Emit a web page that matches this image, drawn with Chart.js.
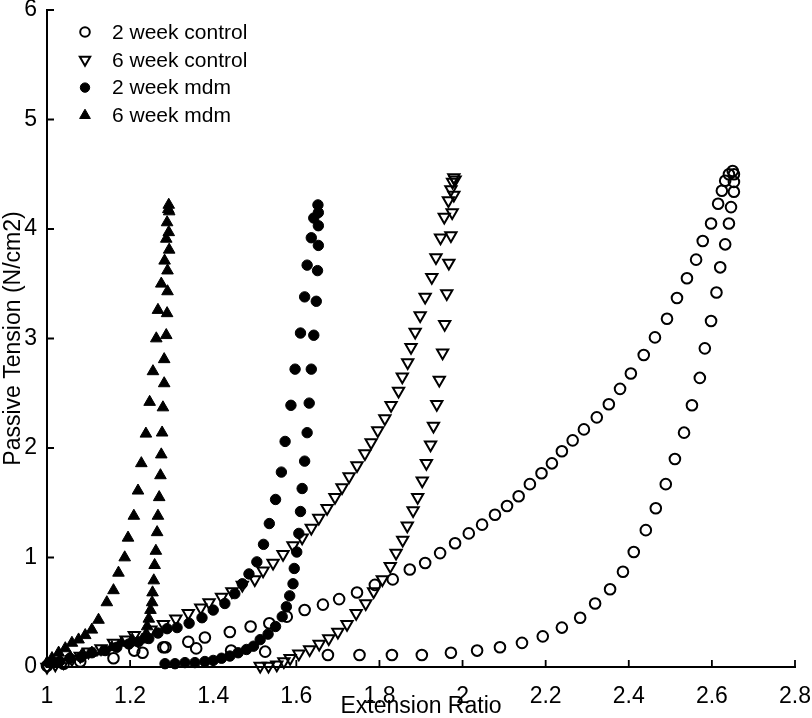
<!DOCTYPE html>
<html>
<head>
<meta charset="utf-8">
<script src="https://cdn.jsdelivr.net/npm/chart.js@4"></script>
<style>
  html, body { margin: 0; padding: 0; background: #fff; }
</style>
</head>
<body>
<canvas id="chart" width="812" height="718"></canvas>
<script>
const FONT = '"Liberation Sans", Arial, Helvetica, sans-serif';

const seriesLabels = ["2 week control", "6 week control", "2 week mdm", "6 week mdm"];
const xTicks = [1, 1.2, 1.4, 1.6, 1.8, 2, 2.2, 2.4, 2.6, 2.8];
const yTicks = [0, 1, 2, 3, 4, 5, 6];

// 2 week control (open circles): loading branch then unloading branch
const ctrl2X = [1.00, 1.04, 1.08, 1.16, 1.23, 1.28, 1.34, 1.38, 1.44, 1.49, 1.535, 1.577, 1.62, 1.664, 1.703,
  1.746, 1.789, 1.832, 1.873, 1.91, 1.946, 1.982, 2.015, 2.047, 2.078, 2.107, 2.135, 2.162, 2.19, 2.215,
  2.239, 2.265, 2.292, 2.323, 2.352, 2.379, 2.405, 2.436, 2.463, 2.492, 2.516, 2.54, 2.562, 2.578, 2.598,
  2.615, 2.624, 2.632, 2.641, 2.65,
  2.653, 2.653, 2.653, 2.646, 2.641, 2.632, 2.62, 2.611, 2.598, 2.583, 2.571, 2.552, 2.533, 2.511, 2.489,
  2.465, 2.441, 2.412, 2.386, 2.355, 2.319, 2.283, 2.239, 2.193, 2.143, 2.09, 2.035, 1.972, 1.902, 1.83,
  1.752, 1.676, 1.525, 1.443, 1.359, 1.285, 1.21];
const ctrl2Y = [0.01, 0.03, 0.05, 0.08, 0.13, 0.18, 0.23, 0.27, 0.32, 0.37, 0.40, 0.46, 0.52, 0.57, 0.62,
  0.68, 0.75, 0.80, 0.89, 0.95, 1.04, 1.13, 1.22, 1.30, 1.39, 1.47, 1.56, 1.67, 1.77, 1.86,
  1.97, 2.07, 2.17, 2.28, 2.40, 2.54, 2.68, 2.85, 3.01, 3.18, 3.37, 3.55, 3.72, 3.89, 4.05,
  4.23, 4.35, 4.44, 4.50, 4.53,
  4.50, 4.43, 4.34, 4.20, 4.05, 3.86, 3.65, 3.42, 3.16, 2.91, 2.64, 2.39, 2.14, 1.90, 1.67,
  1.45, 1.25, 1.05, 0.87, 0.71, 0.58, 0.45, 0.36, 0.28, 0.22, 0.18, 0.15, 0.13, 0.11, 0.11,
  0.11, 0.11, 0.14, 0.15, 0.17, 0.18, 0.15];

// 6 week control (open down triangles)
const ctrl6X = [1.00, 1.02, 1.04, 1.06, 1.08, 1.10, 1.13, 1.16, 1.19, 1.21, 1.25, 1.28, 1.31, 1.34, 1.37,
  1.39, 1.42, 1.445, 1.47, 1.50, 1.52, 1.544, 1.568, 1.592, 1.614, 1.636, 1.654, 1.674, 1.693, 1.71,
  1.727, 1.746, 1.765, 1.78, 1.796, 1.813, 1.828, 1.846, 1.855, 1.868, 1.876, 1.886, 1.898, 1.91, 1.926,
  1.936, 1.947, 1.956, 1.966, 1.972, 1.976, 1.979,
  1.982, 1.979, 1.975, 1.972, 1.967, 1.962, 1.957, 1.952, 1.944, 1.938, 1.93, 1.923, 1.913, 1.903, 1.892,
  1.881, 1.867, 1.856, 1.84, 1.826, 1.807, 1.786, 1.767, 1.744, 1.722, 1.70, 1.678, 1.655, 1.632, 1.606,
  1.585, 1.57, 1.553, 1.533, 1.513];
const ctrl6Y = [0.00, 0.02, 0.04, 0.07, 0.10, 0.14, 0.17, 0.22, 0.25, 0.29, 0.34, 0.39, 0.44, 0.49, 0.54,
  0.59, 0.64, 0.69, 0.75, 0.80, 0.88, 0.95, 1.03, 1.11, 1.18, 1.27, 1.36, 1.45, 1.55, 1.64,
  1.74, 1.84, 1.95, 2.05, 2.16, 2.27, 2.39, 2.52, 2.65, 2.78, 2.92, 3.06, 3.21, 3.38, 3.56,
  3.74, 3.92, 4.11, 4.26, 4.36, 4.43, 4.47,
  4.45, 4.31, 4.15, 3.94, 3.69, 3.41, 3.13, 2.87, 2.62, 2.40, 2.20, 2.03, 1.86, 1.70, 1.55,
  1.43, 1.29, 1.16, 1.04, 0.92, 0.80, 0.69, 0.58, 0.49, 0.39, 0.32, 0.26, 0.21, 0.16, 0.12,
  0.08, 0.05, 0.02, 0.01, 0.01];

// 2 week mdm (filled circles)
const mdm2X = [1.01, 1.03, 1.055, 1.082, 1.108, 1.14, 1.168, 1.197, 1.22, 1.245, 1.267, 1.289, 1.313, 1.342, 1.373,
  1.40, 1.428, 1.452, 1.47, 1.486, 1.505, 1.521, 1.535, 1.55, 1.564, 1.573, 1.587, 1.597, 1.61, 1.62,
  1.626, 1.636, 1.642, 1.652,
  1.653, 1.653, 1.653, 1.651, 1.648, 1.642, 1.636, 1.631, 1.626, 1.62, 1.614, 1.61, 1.606, 1.601, 1.595,
  1.592, 1.584, 1.576, 1.566, 1.55, 1.532, 1.513, 1.497, 1.48, 1.46, 1.44, 1.42, 1.40, 1.38, 1.356,
  1.332, 1.308, 1.284];
const mdm2Y = [0.04, 0.05, 0.08, 0.09, 0.13, 0.15, 0.18, 0.21, 0.23, 0.26, 0.31, 0.35, 0.36, 0.40, 0.45,
  0.52, 0.58, 0.67, 0.76, 0.85, 0.96, 1.12, 1.31, 1.53, 1.78, 2.06, 2.39, 2.72, 3.05, 3.38,
  3.67, 3.92, 4.10, 4.22,
  4.15, 4.03, 3.85, 3.62, 3.34, 3.03, 2.72, 2.41, 2.14, 1.88, 1.63, 1.42, 1.22, 1.05, 0.90,
  0.76, 0.65, 0.55, 0.46, 0.37, 0.30, 0.25, 0.19, 0.16, 0.13, 0.10, 0.08, 0.06, 0.05, 0.04,
  0.04, 0.03, 0.03];

// 6 week mdm (filled triangles)
const mdm6X = [1.00, 1.012, 1.028, 1.044, 1.06, 1.076, 1.092, 1.108, 1.124, 1.144, 1.16, 1.172, 1.187, 1.195, 1.209,
  1.219, 1.227, 1.238, 1.247, 1.255, 1.263, 1.267, 1.275, 1.283, 1.287, 1.289, 1.292, 1.293,
  1.294, 1.293, 1.294, 1.29, 1.29, 1.289, 1.287, 1.282, 1.282, 1.279, 1.277, 1.275, 1.273, 1.27, 1.267,
  1.265, 1.262, 1.259, 1.257, 1.254, 1.253, 1.249, 1.245, 1.241, 1.237, 1.229, 1.205, 1.18, 1.156, 1.132,
  1.108, 1.084, 1.056, 1.032, 1.01];
const mdm6Y = [0.04, 0.08, 0.13, 0.17, 0.22, 0.25, 0.29, 0.34, 0.43, 0.59, 0.70, 0.86, 1.00, 1.18, 1.38,
  1.61, 1.86, 2.13, 2.42, 2.70, 3.00, 3.26, 3.50, 3.71, 3.91, 4.06, 4.18, 4.22,
  4.16, 3.97, 3.81, 3.62, 3.43, 3.23, 3.03, 2.81, 2.59, 2.37, 2.14, 1.94, 1.75, 1.55, 1.38,
  1.23, 1.06, 0.93, 0.79, 0.68, 0.59, 0.52, 0.44, 0.37, 0.29, 0.25, 0.25, 0.22, 0.18, 0.14,
  0.13, 0.11, 0.09, 0.06, 0.03];

const toPoints = (xs, ys) => xs.map((x, i) => ({ x: x, y: ys[i] }));

// inward tick marks like the original figure
const insideTicks = {
  id: "insideTicks",
  afterDraw(chart) {
    const { ctx, chartArea, scales } = chart;
    ctx.save();
    ctx.strokeStyle = "#000";
    ctx.lineWidth = 1.8;
    ctx.beginPath();
    scales.x.ticks.forEach((t) => {
      const px = scales.x.getPixelForValue(t.value);
      ctx.moveTo(px, chartArea.bottom);
      ctx.lineTo(px, chartArea.bottom - 7);
    });
    scales.y.ticks.forEach((t) => {
      const py = scales.y.getPixelForValue(t.value);
      ctx.moveTo(chartArea.left, py);
      ctx.lineTo(chartArea.left + 7, py);
    });
    ctx.stroke();
    ctx.restore();
  },
};

// legend in the top-left corner of the plot, no box
const cornerLegend = {
  id: "cornerLegend",
  afterDraw(chart) {
    const { ctx, chartArea } = chart;
    ctx.save();
    ctx.font = "21px " + FONT;
    ctx.textBaseline = "middle";
    chart.data.datasets.forEach((ds, i) => {
      const cx = chartArea.left + 38;
      const cy = chartArea.top + 22 + i * 27.8;
      ctx.fillStyle = ds.pointBackgroundColor;
      ctx.strokeStyle = "#000";
      ctx.lineWidth = ds.pointBorderWidth;
      Chart.helpers.drawPoint(ctx, {
        pointStyle: ds.pointStyle,
        radius: ds.pointRadius - 0.5,
        rotation: ds.pointRotation || 0,
        borderWidth: ds.pointBorderWidth,
      }, cx, cy);
      ctx.fillStyle = "#000";
      ctx.fillText(ds.label, cx + 27, cy + 1);
    });
    ctx.restore();
  },
};

function makeSet(i, xs, ys, style, filled, radius, rotation) {
  return {
    label: seriesLabels[i],
    data: toPoints(xs, ys),
    pointStyle: style,
    pointRadius: radius,
    pointHoverRadius: radius,
    pointRotation: rotation,
    pointBorderWidth: filled ? 1 : 2,
    pointBorderColor: "#000",
    pointBackgroundColor: filled ? "#000" : "rgba(0,0,0,0)",
    showLine: false,
    clip: false,
  };
}

const fixAxis = (w, h) => (scale) => {
  if (w !== null) scale.width = w;
  if (h !== null) scale.height = h;
  scale.paddingLeft = 0;
  scale.paddingRight = 0;
  scale.paddingTop = 0;
  scale.paddingBottom = 0;
};

new Chart(document.getElementById("chart"), {
  type: "scatter",
  data: {
    datasets: [
      makeSet(0, ctrl2X, ctrl2Y, "circle", false, 5.3, 0),
      makeSet(1, ctrl6X, ctrl6Y, "triangle", false, 6.5, 180),
      makeSet(2, mdm2X, mdm2Y, "circle", true, 5.2, 0),
      makeSet(3, mdm6X, mdm6Y, "triangle", true, 6.7, 0),
    ],
  },
  options: {
    responsive: false,
    animation: false,
    devicePixelRatio: 1,
    layout: { padding: { top: 10, right: 17, left: 0, bottom: 0 } },
    plugins: { legend: { display: false }, tooltip: { enabled: false } },
    scales: {
      x: {
        type: "linear",
        min: 1,
        max: 2.8,
        afterBuildTicks: (scale) => { scale.ticks = xTicks.map((v) => ({ value: v })); },
        afterFit: fixAxis(null, 51),
        grid: { display: false },
        border: { display: true, color: "#000", width: 2 },
        ticks: {
          color: "#000",
          font: { family: FONT, size: 23 },
          padding: 8,
          maxRotation: 0,
          autoSkip: false,
          callback: (v) => String(+v.toFixed(1)),
        },
        title: {
          display: true,
          text: "Extension Ratio",
          color: "#000",
          font: { family: FONT, size: 23 },
          padding: { top: 0, bottom: -2 },
        },
      },
      y: {
        type: "linear",
        min: 0,
        max: 6,
        afterBuildTicks: (scale) => { scale.ticks = yTicks.map((v) => ({ value: v })); },
        afterFit: fixAxis(47, null),
        grid: { display: false },
        border: { display: true, color: "#000", width: 2 },
        ticks: {
          color: "#000",
          font: { family: FONT, size: 23 },
          padding: 2,
          autoSkip: false,
          callback: (v) => String(v),
        },
        title: {
          display: true,
          text: "Passive Tension (N/cm2)",
          color: "#000",
          font: { family: FONT, size: 23 },
          padding: { top: 0, bottom: 0 },
        },
      },
    },
  },
  plugins: [insideTicks, cornerLegend],
});
</script>
</body>
</html>
